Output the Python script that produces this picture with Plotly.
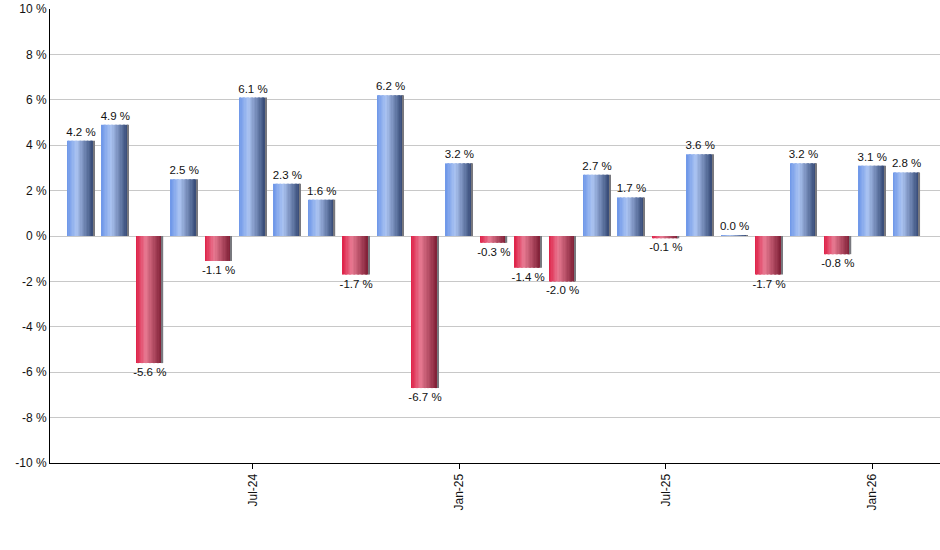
import plotly.graph_objects as go

# Monatsrenditen in %
months = ["Feb-24", "Mar-24", "Apr-24", "May-24", "Jun-24", "Jul-24", "Aug-24", "Sep-24",
          "Oct-24", "Nov-24", "Dec-24", "Jan-25", "Feb-25", "Mar-25", "Apr-25", "May-25",
          "Jun-25", "Jul-25", "Aug-25", "Sep-25", "Oct-25", "Nov-25", "Dec-25", "Jan-26", "Feb-26"]
returns = [4.2, 4.9, -5.6, 2.5, -1.1, 6.1, 2.3, 1.6, -1.7, 6.2, -6.7, 3.2, -0.3, -1.4, -2.0,
           2.7, 1.7, -0.1, 3.6, 0.04, -1.7, 3.2, -0.8, 3.1, 2.8]
tick_months = ["Jul-24", "Jan-25", "Jul-25", "Jan-26"]
y_ticks = [-10, -8, -6, -4, -2, 0, 2, 4, 6, 8, 10]
y_ticklabels = [f"{v} %" for v in y_ticks]

# Farbverlauf (links -> hell -> dunkel)
blue_stops = [(0.0, (108, 150, 232)), (0.35, (172, 196, 242)), (1.0, (44, 64, 108))]
red_stops = [(0.0, (222, 30, 70)), (0.35, (232, 122, 146)), (1.0, (118, 24, 46))]


def interp(stops, t):
    for (t0, c0), (t1, c1) in zip(stops[:-1], stops[1:]):
        if t0 <= t <= t1:
            f = (t - t0) / (t1 - t0)
            return "rgb(%d,%d,%d)" % tuple(round(a + (b - a) * f) for a, b in zip(c0, c1))
    return "rgb(%d,%d,%d)" % stops[-1][1]


bar_w = 0.78
n_slices = 20
fig = go.Figure()

for i in range(n_slices):
    t = (i + 0.5) / n_slices
    colors = [interp(blue_stops, t) if r >= 0 else interp(red_stops, t) for r in returns]
    if i == n_slices - 1:
        colors = ["rgb(120,120,126)"] * len(returns)
    fig.add_bar(x=months, y=returns, width=bar_w / n_slices,
                offset=-bar_w / 2 + i * bar_w / n_slices,
                marker=dict(color=colors, line=dict(width=0)),
                hoverinfo="skip", showlegend=False)

# Beschriftung
fig.add_bar(x=months, y=returns, width=bar_w,
            marker=dict(color="rgba(0,0,0,0)", line=dict(width=0)),
            texttemplate="%{y:.1f} %", textposition="outside", constraintext="none",
            textfont=dict(color="#111111", size=11.5, family="Liberation Sans"),
            outsidetextfont=dict(color="#111111", size=11.5, family="Liberation Sans"),
            cliponaxis=False, showlegend=False)

fig.update_layout(
    width=940, height=550,
    barmode="overlay",
    plot_bgcolor="white", paper_bgcolor="white",
    margin=dict(l=50, r=0, t=9, b=87, autoexpand=False),
    font=dict(family="Liberation Sans", size=12, color="#111111"),
)
fig.update_xaxes(type="category", range=[-0.9, 24.97], automargin=False,
                 tickmode="array", tickvals=tick_months, ticktext=tick_months,
                 tickangle=-90, ticks="outside", ticklen=5, tickcolor="black",
                 showgrid=False, showline=True, linecolor="black", linewidth=1,
                 tickfont=dict(size=12))
fig.update_yaxes(range=[-10, 10], automargin=False,
                 tickmode="array", tickvals=y_ticks, ticktext=y_ticklabels,
                 showgrid=True, gridcolor="#c8c8c8", gridwidth=1,
                 zeroline=True, zerolinecolor="#c8c8c8", zerolinewidth=1,
                 showline=True, linecolor="black", linewidth=1, ticks="",
                 tickfont=dict(size=12))

# Body-Rand der Seite entfernen, damit die Figur bei 0,0 beginnt
fig.write_html("out.html", config={"displayModeBar": False},
               post_script="document.body.style.margin='0';")
